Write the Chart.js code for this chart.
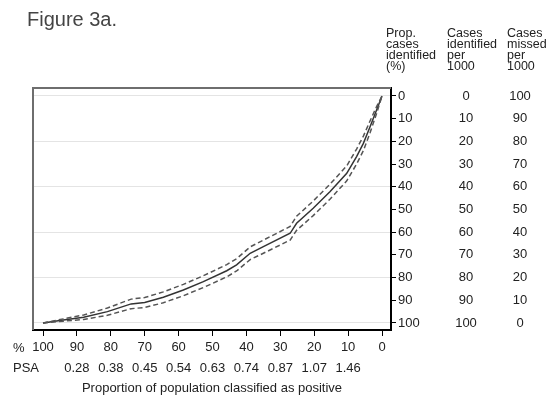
<!DOCTYPE html>
<html lang="en">
  <head>
    <meta charset="UTF-8" />
    <title>Figure 3a</title>
    <style>
      html, body { margin: 0; padding: 0; background: #fff; }
      canvas { display: block; }
    </style>
  </head>
  <body>
    <canvas id="myChart" width="558" height="403"></canvas>

    <script src="https://cdn.jsdelivr.net/npm/chart.js@4/dist/chart.umd.min.js"></script>
    <script>
      // proportion of population classified as positive (%)
      const pctPositive = [100, 94, 88, 81, 74, 70, 64.5, 58.6, 52.7, 45.8, 42.9, 38.9, 35, 27.1, 25.2, 20.3, 15.3, 10.4, 7.5, 5.5, 3.5, 1.6, 0];
      // proportion of cases identified (%) and its confidence band
      const pctIdentified = [100, 98.7, 97.5, 95, 91.6, 91, 88.7, 85.5, 81.8, 77, 74.4, 69.3, 66.4, 60.5, 56.1, 49.5, 42.1, 34.1, 26.7, 20.9, 13.5, 6.2, 0];
      const upperBand = [100, 98.2, 96.5, 93.4, 89.5, 88.8, 86.3, 83, 79.2, 74.3, 71.7, 66.5, 63.5, 57.5, 53, 46.3, 38.8, 30.8, 23.4, 17.7, 10.9, 4.7, 0];
      const lowerBand = [100, 99.2, 98.5, 96.6, 93.7, 93.2, 91.1, 88, 84.4, 79.7, 77.1, 72.1, 69.3, 63.5, 59.2, 52.7, 45.4, 37.4, 30, 24.1, 16.1, 7.7, 0];

      const xTicks = [100, 90, 80, 70, 60, 50, 40, 30, 20, 10, 0];
      const psaLabels = ["", "0.28", "0.38", "0.45", "0.54", "0.63", "0.74", "0.87", "1.07", "1.46", ""];
      const yTicks = [0, 10, 20, 30, 40, 50, 60, 70, 80, 90, 100];
      const identifiedPer1000 = [0, 10, 20, 30, 40, 50, 60, 70, 80, 90, 100];
      const missedPer1000 = [100, 90, 80, 70, 60, 50, 40, 30, 20, 10, 0];

      const FONT = "Liberation Sans, Arial, sans-serif";
      Chart.defaults.font.family = FONT;
      Chart.defaults.font.size = 13;
      Chart.defaults.color = "#222";

      function toPoints(ys) {
        return pctPositive.map((x, i) => ({ x: x, y: ys[i] }));
      }

      const extras = {
        id: "extras",
        afterDraw(chart) {
          const ctx = chart.ctx;
          const area = chart.chartArea;
          const xs = chart.scales.x;
          const ys = chart.scales.y;
          ctx.save();

          // grey left / top frame
          ctx.strokeStyle = "#6e6e6e";
          ctx.lineWidth = 2;
          ctx.beginPath();
          ctx.moveTo(area.left, area.bottom);
          ctx.lineTo(area.left, area.top);
          ctx.lineTo(area.right, area.top);
          ctx.stroke();

          ctx.fillStyle = "#444";
          ctx.font = "20px " + FONT;
          ctx.textAlign = "left";
          ctx.textBaseline = "alphabetic";
          ctx.fillText("Figure 3a.", 27, 26);

          // column headers
          ctx.fillStyle = "#222";
          ctx.font = "12.5px " + FONT;
          const heads = [
            [386, ["Prop.", "cases", "identified", "(%)"]],
            [447, ["Cases", "identified", "per", "1000"]],
            [507, ["Cases", "missed", "per", "1000"]]
          ];
          heads.forEach(h => {
            h[1].forEach((t, i) => ctx.fillText(t, h[0], 37 + i * 11));
          });

          // extra columns
          ctx.font = "13px " + FONT;
          ctx.textAlign = "center";
          ctx.textBaseline = "middle";
          yTicks.forEach((v, i) => {
            const py = ys.getPixelForValue(v);
            ctx.fillText(String(identifiedPer1000[i]), 466, py);
            ctx.fillText(String(missedPer1000[i]), 520, py);
          });

          // x labels
          ctx.textAlign = "left";
          ctx.fillText("%", 13, 348);
          ctx.fillText("PSA", 13, 368);
          ctx.textAlign = "center";
          xTicks.forEach((v, i) => {
            if (psaLabels[i]) ctx.fillText(psaLabels[i], xs.getPixelForValue(v), 368);
          });
          ctx.fillText("Proportion of population classified as positive", (area.left + area.right) / 2, 388);
          ctx.restore();
        }
      };

      const ctx = document.getElementById("myChart").getContext("2d");
      const chart = new Chart(ctx, {
        type: "scatter",
        data: {
          datasets: [
            {
              data: toPoints(upperBand),
              showLine: true,
              borderColor: "#555",
              borderWidth: 1.5,
              borderDash: [5, 3],
              pointRadius: 0
            },
            {
              data: toPoints(lowerBand),
              showLine: true,
              borderColor: "#555",
              borderWidth: 1.5,
              borderDash: [5, 3],
              pointRadius: 0
            },
            {
              data: toPoints(pctIdentified),
              showLine: true,
              borderColor: "#333",
              borderWidth: 1.5,
              pointRadius: 0
            }
          ]
        },
        options: {
          responsive: false,
          animation: false,
          layout: { padding: { left: 33, top: 88, right: 0, bottom: 0 } },
          plugins: { legend: { display: false }, tooltip: { enabled: false } },
          scales: {
            x: {
              type: "linear",
              reverse: true,
              min: -2.65,
              max: 102.95,
              afterBuildTicks: s => { s.ticks = xTicks.map(v => ({ value: v })); },
              afterFit: s => { s.height = 73; },
              grid: { drawOnChartArea: false, tickColor: "#000", tickLength: 6 },
              border: { color: "#000", width: 2 },
              ticks: { padding: 4, color: "#222", autoSkip: false, maxRotation: 0 }
            },
            y: {
              type: "linear",
              position: "right",
              reverse: true,
              min: -3.5,
              max: 103.1,
              afterBuildTicks: s => { s.ticks = yTicks.map(v => ({ value: v })); },
              afterFit: s => { s.width = 167; },
              grid: {
                color: c => (c.tick && c.tick.value % 20 === 0 ? "#e4e4e4" : "rgba(0,0,0,0)"),
                tickColor: "#000",
                tickLength: 5,
                lineWidth: 1
              },
              border: { color: "#000", width: 2 },
              ticks: { padding: 2, color: "#222", autoSkip: false }
            }
          }
        },
        plugins: [extras]
      });
    </script>
  </body>
</html>
